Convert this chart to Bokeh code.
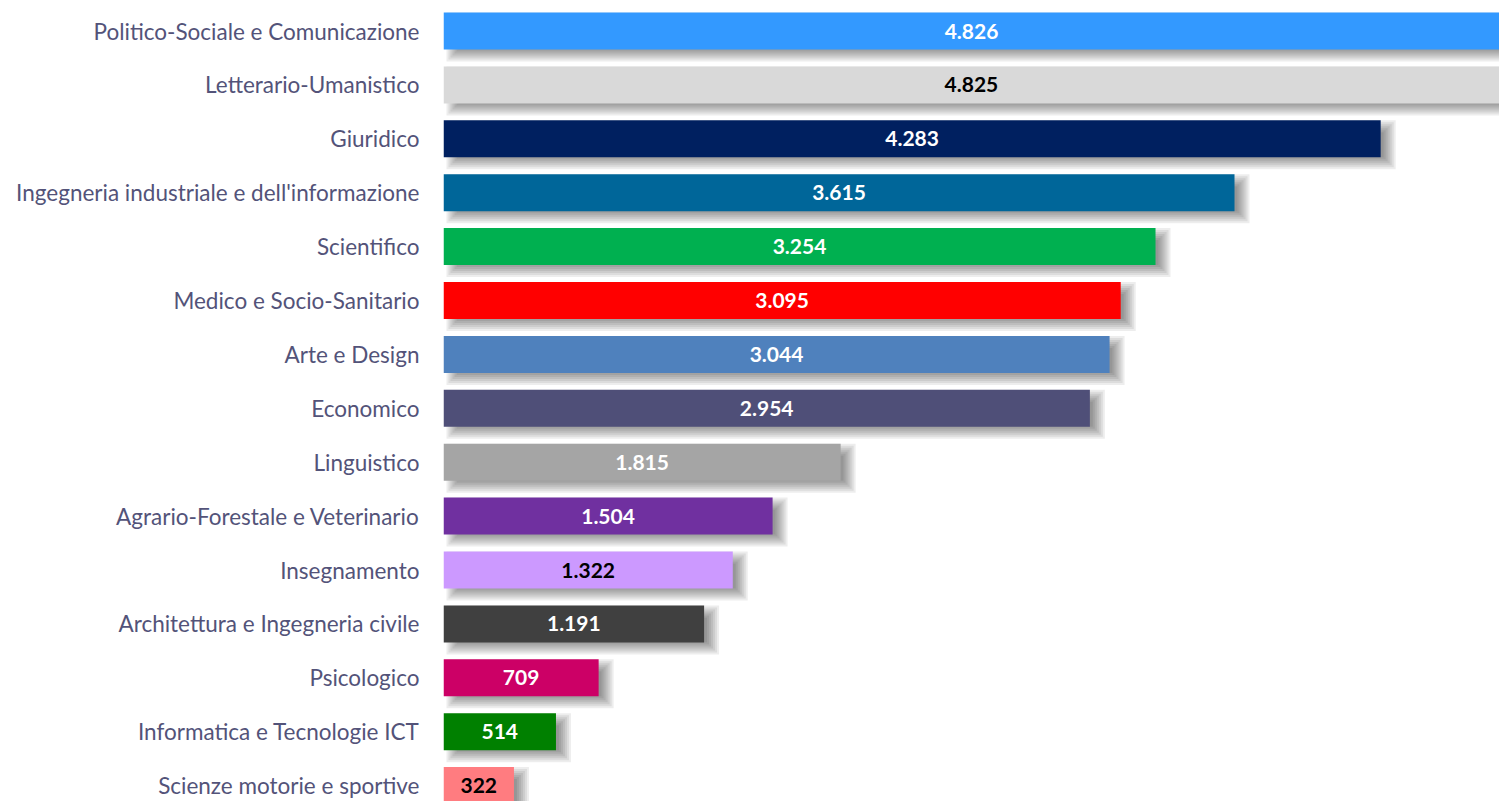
from bokeh.plotting import figure
from bokeh.models import ColumnDataSource, Range1d, FixedTicker
from bokeh.core.properties import value
from bokeh.embed import file_html
from bokeh.resources import INLINE

categories = [
    "Politico-Sociale e Comunicazione",
    "Letterario-Umanistico",
    "Giuridico",
    "Ingegneria industriale e dell'informazione",
    "Scientifico",
    "Medico e Socio-Sanitario",
    "Arte e Design",
    "Economico",
    "Linguistico",
    "Agrario-Forestale e Veterinario",
    "Insegnamento",
    "Architettura e Ingegneria civile",
    "Psicologico",
    "Informatica e Tecnologie ICT",
    "Scienze motorie e sportive",
]
values = [4826, 4825, 4283, 3615, 3254, 3095, 3044, 2954, 1815, 1504, 1322, 1191, 709, 514, 322]
bar_colors = ["#3399FF", "#D9D9D9", "#002060", "#006699", "#00B050", "#FF0000", "#4F81BD",
              "#4F4F78", "#A5A5A5", "#7030A0", "#CC99FF", "#404040", "#CC0066", "#008000", "#FF7C80"]
label_colors = ["white", "black", "white", "white", "white", "white", "white",
                "white", "white", "white", "black", "white", "white", "white", "black"]

W, H = 1499, 801
LEFT = 443
frame_w = W - LEFT
px_per_unit = 1056 / 4826.0
x_end = frame_w / px_per_unit
row_px = 53.9
y_top = -30.5 / row_px
y_bot = y_top + H / row_px
bar_h = 37 / row_px

ys = list(range(len(categories)))
src = ColumnDataSource(dict(
    y=ys, v=values, half=[v / 2 for v in values], color=bar_colors, tcolor=label_colors,
    txt=[f"{v:,}".replace(",", ".") for v in values],
))

p = figure(width=W, height=H, output_backend="svg", toolbar_location=None,
           x_range=Range1d(0, x_end), y_range=Range1d(y_bot, y_top),
           x_axis_location=None, min_border_left=LEFT, min_border_right=0,
           min_border_top=0, min_border_bottom=0)
p.outline_line_color = None
p.xgrid.visible = False
p.ygrid.visible = False

# soft drop shadows
dx = 9 / px_per_unit
dy = 6 / row_px
for g in [-6, -4, -2, 0, 2, 4, 6]:
    gx = g / px_per_unit
    gy = g / row_px
    sh = ColumnDataSource(dict(
        y=[y + dy for y in ys],
        left=[dx - gx for _ in values],
        right=[v + dx + gx for v in values],
    ))
    p.hbar(y="y", left="left", right="right", height=bar_h + 2 * gy, source=sh,
           fill_color="black", fill_alpha=0.07, line_color=None)

p.hbar(y="y", left=0, right="v", height=bar_h, source=src, fill_color="color", line_color=None)
p.text(x="half", y="y", text="txt", source=src, text_color="tcolor",
       text_font=value("Lato"), text_font_style="bold", text_font_size="21px",
       text_align="center", text_baseline="middle")

ax = p.yaxis[0]
ax.ticker = FixedTicker(ticks=ys)
ax.major_label_overrides = {i: c for i, c in enumerate(categories)}
ax.axis_line_color = None
ax.major_tick_line_color = None
ax.minor_tick_line_color = None
ax.major_tick_out = 0
ax.major_tick_in = 0
ax.major_label_standoff = 24
ax.major_label_text_font = "Lato"
ax.major_label_text_font_size = "22.5px"
ax.major_label_text_color = "#535379"

open("out.html", "w").write(file_html(p, INLINE))
